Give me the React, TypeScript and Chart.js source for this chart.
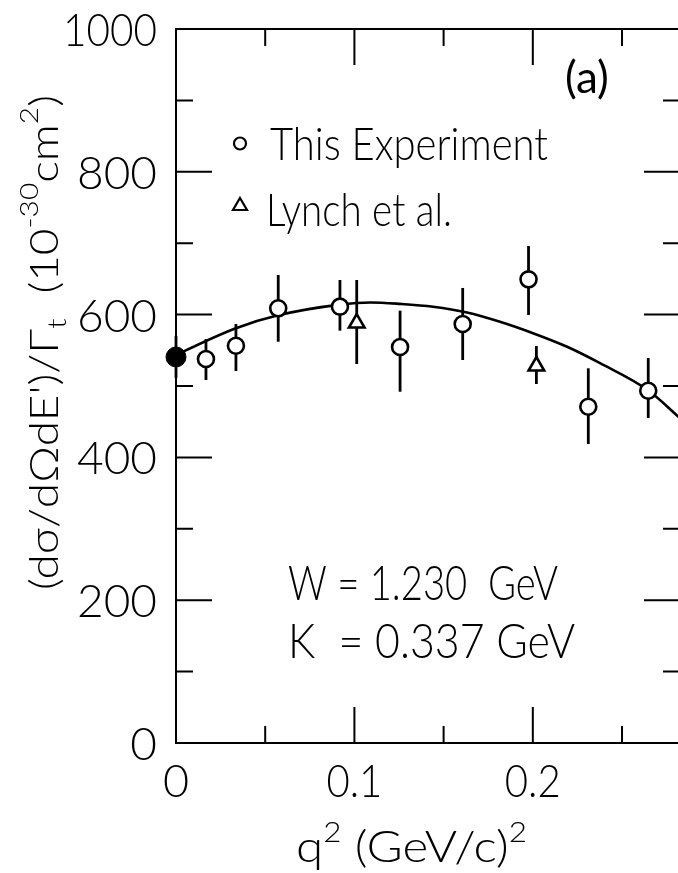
import React, { useEffect, useRef } from "react";
import { Chart, registerables } from "chart.js";

Chart.register(...registerables);

const FONT = '"Lato", "Noto Sans", "DejaVu Sans", sans-serif';
const WEIGHT = "300";

// This experiment (open circles)
const expQ2 = [0.0168, 0.0336, 0.0573, 0.0919, 0.1256, 0.1607, 0.1976, 0.2311, 0.2647];
const expVal = [537.8, 556.4, 608.8, 611.1, 554.6, 586.8, 649.4, 471.0, 493.4];
const expHigh = [565.8, 586.8, 655.5, 648.5, 605.5, 637.3, 696.1, 524.8, 539.2];
const expLow = [508.4, 521.0, 562.0, 577.5, 492.0, 536.4, 599.4, 418.8, 455.2];

// Lynch et al. (triangles)
const lynchQ2 = [0.1013, 0.202];
const lynchVal = [588.2, 528.0];
const lynchHigh = [648.5, 556.0];
const lynchLow = [530.8, 502.8];

// Real photon point (filled circle)
const realQ2 = [0];
const realVal = [540.6];
const realHigh = [570.0];
const realLow = [511.2];

// Fitted curve
const fitQ2 = [0, 0.0039, 0.0336, 0.0572, 0.0919, 0.109, 0.1256, 0.1441, 0.1631, 0.1816, 0.2001, 0.2192, 0.2377, 0.2646, 0.2825];
const fitVal = [543, 548, 581, 599, 614, 617, 615, 611, 603, 590, 574, 555, 532, 494, 455];

// Axes
const X_MIN = 0;
const X_MAX = 0.2825;
const Y_MIN = 0;
const Y_MAX = 1000;
const yMajor = [0, 200, 400, 600, 800, 1000];
const yLabels = ["0", "200", "400", "600", "800", "1000"];
const yMinor = [100, 300, 500, 700, 900];
const xMajor = [0.1, 0.2];
const xMinor = [0.05, 0.15, 0.25];
const xLabelVals = [0, 0.1, 0.2];
const xLabels = ["0", "0.1", "0.2"];

const legendExp = "This Experiment";
const legendLynch = "Lynch et al.";
const panelLabel = "(a)";
const noteW = "W = 1.230  GeV";
const noteK = "K  = 0.337 GeV";

function font(size: number, weight: string = WEIGHT) {
  return `${weight} ${size}px ${FONT}`;
}

function fitText(ctx: CanvasRenderingContext2D, text: string, x: number, y: number, size: number, width?: number, align: CanvasTextAlign = "left", weight: string = WEIGHT) {
  ctx.font = font(size, weight);
  ctx.textAlign = align;
  ctx.textBaseline = "alphabetic";
  if (width) ctx.fillText(text, x, y, width);
  else ctx.fillText(text, x, y);
}

type Seg = { t: string; s: number; dy: number };

function drawSegs(ctx: CanvasRenderingContext2D, segs: Seg[], x: number, y: number, totalWidth: number, rotate: boolean) {
  ctx.save();
  ctx.translate(x, y);
  if (rotate) ctx.rotate(-Math.PI / 2);
  ctx.textAlign = "left";
  ctx.textBaseline = "alphabetic";
  let natural = 0;
  for (const s of segs) {
    ctx.font = font(s.s);
    natural += ctx.measureText(s.t).width;
  }
  const k = totalWidth / natural;
  ctx.scale(k, 1);
  let cx = 0;
  for (const s of segs) {
    ctx.font = font(s.s);
    ctx.fillText(s.t, cx, s.dy);
    cx += ctx.measureText(s.t).width;
  }
  ctx.restore();
}

const paperPlugin = {
  id: "paper",
  beforeDatasetsDraw(chart: any) {
    const { ctx } = chart;
    const xs = chart.scales.x;
    const ys = chart.scales.y;
    ctx.save();
    ctx.strokeStyle = "#000";
    ctx.lineWidth = 2.8;
    const bars = (qs: number[], lo: number[], hi: number[]) => {
      qs.forEach((q, i) => {
        const px = xs.getPixelForValue(q);
        ctx.beginPath();
        ctx.moveTo(px, ys.getPixelForValue(lo[i]));
        ctx.lineTo(px, ys.getPixelForValue(hi[i]));
        ctx.stroke();
      });
    };
    bars(expQ2, expLow, expHigh);
    bars(lynchQ2, lynchLow, lynchHigh);
    bars(realQ2, realLow, realHigh);
    ctx.restore();
  },
  afterDraw(chart: any) {
    const { ctx, chartArea } = chart;
    const xs = chart.scales.x;
    const ys = chart.scales.y;
    const { left, right, top, bottom } = chartArea;
    ctx.save();
    ctx.strokeStyle = "#000";
    ctx.fillStyle = "#000";
    ctx.lineWidth = 2;
    ctx.lineCap = "butt";
    // frame
    ctx.beginPath();
    ctx.moveTo(right, top);
    ctx.lineTo(left, top);
    ctx.lineTo(left, bottom);
    ctx.lineTo(right, bottom);
    ctx.lineTo(right, top);
    ctx.stroke();
    const MAJ = 36;
    const MIN = 17;
    // y ticks
    const yTick = (v: number, len: number) => {
      const py = ys.getPixelForValue(v);
      ctx.beginPath();
      ctx.moveTo(left, py);
      ctx.lineTo(left + len, py);
      ctx.moveTo(right, py);
      ctx.lineTo(right - len, py);
      ctx.stroke();
    };
    yMajor.forEach((v) => yTick(v, MAJ));
    yMinor.forEach((v) => yTick(v, MIN));
    const xTick = (v: number, len: number) => {
      const px = xs.getPixelForValue(v);
      ctx.beginPath();
      ctx.moveTo(px, bottom);
      ctx.lineTo(px, bottom - len);
      ctx.moveTo(px, top);
      ctx.lineTo(px, top + len);
      ctx.stroke();
    };
    xMajor.forEach((v) => xTick(v, MAJ));
    xMinor.forEach((v) => xTick(v, MIN));

    // y tick labels
    yMajor.forEach((v, i) => {
      const py = ys.getPixelForValue(v);
      const lab = yLabels[i];
      const w = lab.length === 4 ? 94 : lab.length === 3 ? 82 : undefined;
      fitText(ctx, lab, left - 19, py + 17, 46, w, "right");
    });
    // x tick labels
    xLabelVals.forEach((v, i) => {
      const px = xs.getPixelForValue(v);
      const lab = xLabels[i];
      const w = lab.length === 3 ? 56 : undefined;
      fitText(ctx, lab, px, 797, 45, w, "center");
    });

    // x title
    drawSegs(
      ctx,
      [
        { t: "q", s: 44, dy: 0 },
        { t: "2", s: 28, dy: -20 },
        { t: " (GeV/c)", s: 44, dy: 0 },
        { t: "2", s: 28, dy: -20 },
      ],
      296,
      862,
      231,
      false
    );
    // y title
    drawSegs(
      ctx,
      [
        { t: "(dσ/dΩdE')/Γ", s: 40, dy: 0 },
        { t: "t", s: 26, dy: 8 },
        { t: "  (10", s: 40, dy: 0 },
        { t: "-30", s: 26, dy: -20 },
        { t: "cm", s: 40, dy: 0 },
        { t: "2", s: 26, dy: -20 },
        { t: ")", s: 40, dy: 0 },
      ],
      58,
      590,
      495,
      true
    );

    // legend
    ctx.lineWidth = 2.2;
    ctx.beginPath();
    ctx.arc(240, 143.5, 6, 0, Math.PI * 2);
    ctx.stroke();
    ctx.beginPath();
    ctx.moveTo(240, 198);
    ctx.lineTo(247, 210);
    ctx.lineTo(233, 210);
    ctx.closePath();
    ctx.stroke();
    fitText(ctx, legendExp, 270, 160, 45, 278);
    fitText(ctx, legendLynch, 266, 226, 45, 186);

    // panel label
    fitText(ctx, panelLabel, 565, 93, 44, 63, "left", "400");

    // notes
    fitText(ctx, noteW, 288, 600, 48, 270);
    fitText(ctx, noteK, 288, 658, 48, 287);
    ctx.restore();
  },
};

export default function App() {
  const ref = useRef<HTMLCanvasElement | null>(null);
  useEffect(() => {
    const el = ref.current;
    if (!el) return;
    const pts = (xs: number[], ys: number[]) => xs.map((x, i) => ({ x, y: ys[i] }));
    const chart = new Chart(el, {
      type: "line",
      data: {
        datasets: [
          {
            label: "This Experiment",
            data: pts(expQ2, expVal),
            showLine: false,
            pointStyle: "circle",
            pointRadius: 8,
            pointBorderWidth: 2.6,
            pointBackgroundColor: "#fff",
            pointBorderColor: "#000",
            borderColor: "#000",
            order: 1,
            clip: false,
          } as any,
          {
            label: "Lynch et al.",
            data: pts(lynchQ2, lynchVal),
            showLine: false,
            pointStyle: "triangle",
            pointRadius: 9,
            pointBorderWidth: 2.6,
            pointBackgroundColor: "#fff",
            pointBorderColor: "#000",
            borderColor: "#000",
            order: 1,
            clip: false,
          } as any,
          {
            label: "Real photon",
            data: pts(realQ2, realVal),
            showLine: false,
            pointStyle: "circle",
            pointRadius: 10,
            pointBorderWidth: 1,
            pointBackgroundColor: "#000",
            pointBorderColor: "#000",
            borderColor: "#000",
            order: 1,
            clip: false,
          } as any,
          {
            label: "Fit",
            data: pts(fitQ2, fitVal),
            showLine: true,
            pointRadius: 0,
            borderWidth: 2.6,
            borderColor: "#000",
            fill: false,
            cubicInterpolationMode: "monotone",
            order: 5,
          } as any,
        ],
      },
      options: {
        responsive: false,
        animation: false,
        layout: { autoPadding: false, padding: { left: 176, top: 29, right: 0, bottom: 130 } },
        scales: {
          x: { type: "linear", min: X_MIN, max: X_MAX, display: false },
          y: { type: "linear", min: Y_MIN, max: Y_MAX, display: false },
        },
        plugins: { legend: { display: false }, tooltip: { enabled: false } },
        events: [],
      } as any,
      plugins: [paperPlugin],
    });
    return () => chart.destroy();
  }, []);
  return (
    <div style={{ position: "fixed", left: 0, top: 0, width: 678, height: 873, overflow: "hidden", background: "#fff" }}>
      <canvas ref={ref} width={680} height={873} style={{ display: "block", width: 680, height: 873 }} />
    </div>
  );
}
